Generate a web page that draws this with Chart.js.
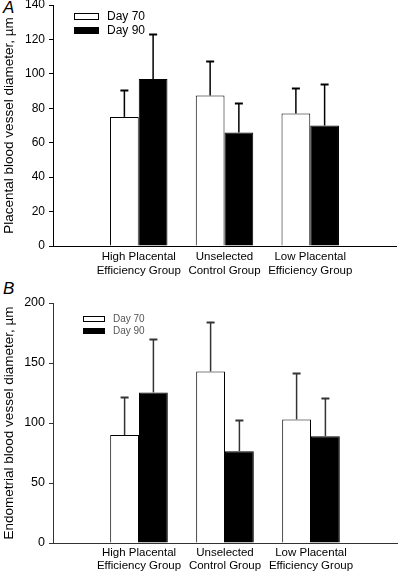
<!DOCTYPE html>
<html>
<head>
<meta charset="utf-8">
<script src="https://cdn.jsdelivr.net/npm/chart.js@4.4.0/dist/chart.umd.min.js"></script>
<style>
    html, body { margin: 0; padding: 0; background: #fff; }
    body { width: 400px; height: 573px; position: relative; overflow: hidden; }
    canvas { position: absolute; left: 0; }
    #chart-a { top: 0; }
    #chart-b { top: 280px; }
    .panel {
        position: absolute; left: 3px;
        font-family: "Liberation Sans", Arial, sans-serif;
        font-style: italic; font-size: 17px; color: #000;
    }
</style>
</head>
<body>
<div class="panel" style="top:-2px">A</div>
<div class="panel" style="top:279px">B</div>
<canvas id="chart-a" width="400" height="280"></canvas>
<canvas id="chart-b" width="400" height="293"></canvas>
<script>
const categories = [
    ["High Placental", "Efficiency Group"],
    ["Unselected", "Control Group"],
    ["Low Placental", "Efficiency Group"],
];
const seriesNames = ["Day 70", "Day 90"];

const placentalDay70 = [75, 87.5, 77];
const placentalDay70Sd = [15.5, 20, 14.5];
const placentalDay90 = [97, 66, 70];
const placentalDay90Sd = [26, 17, 24];

const endometrialDay70 = [90, 143, 103];
const endometrialDay70Sd = [31.5, 41, 38.5];
const endometrialDay90 = [125.5, 76.5, 89];
const endometrialDay90Sd = [44.5, 26, 32];

const placentalTicks = { max: 140, step: 20 };
const endometrialTicks = { max: 200, step: 50 };

const FONT = "'Liberation Sans', Arial, sans-serif";

// empty slots on each side so groups sit at 1, 2, 3 of a 0..4 axis
const pad = (arr) => [null, ...arr, null];
const labels = ["", ...categories, ""];

const errorBars = {
    id: "errorBars",
    afterDatasetsDraw(chart, args, opts) {
        const ctx = chart.ctx;
        const yScale = chart.scales.y;
        ctx.save();
        ctx.strokeStyle = opts.color;
        chart.data.datasets.forEach((ds, i) => {
            const meta = chart.getDatasetMeta(i);
            meta.data.forEach((bar, j) => {
                const v = ds.data[j];
                const sd = ds.sd[j];
                if (v == null || sd == null) return;
                const top = Math.round(yScale.getPixelForValue(v + sd)) + 0.5;
                ctx.lineWidth = 1.5;
                ctx.beginPath();
                ctx.moveTo(bar.x, bar.y);
                ctx.lineTo(bar.x, top);
                ctx.stroke();
                ctx.lineWidth = 2;
                ctx.beginPath();
                ctx.moveTo(bar.x - 4, top);
                ctx.lineTo(bar.x + 4, top);
                ctx.stroke();
            });
        });
        ctx.restore();
    },
};

const boxLegend = {
    id: "boxLegend",
    afterDraw(chart, args, o) {
        const ctx = chart.ctx;
        ctx.save();
        ctx.font = `${o.fontSize}px ${FONT}`;
        ctx.textBaseline = "middle";
        chart.data.datasets.forEach((ds, i) => {
            const y = o.y + i * o.gap;
            ctx.fillStyle = ds.backgroundColor;
            ctx.fillRect(o.x, y, o.w, o.h);
            ctx.strokeStyle = "#000";
            ctx.lineWidth = 1;
            ctx.strokeRect(o.x + 0.5, y + 0.5, o.w - 1, o.h - 1);
            ctx.fillStyle = o.textColor;
            ctx.fillText(ds.label, o.x + o.w + 8, y + o.h / 2);
        });
        ctx.restore();
    },
};

function makeChart(id, d70, sd70, d90, sd90, ticks, title, s) {
    const ctx = document.getElementById(id).getContext("2d");
    return new Chart(ctx, {
        type: "bar",
        data: {
            labels: labels,
            datasets: [
                {
                    label: seriesNames[0],
                    data: pad(d70),
                    sd: pad(sd70),
                    backgroundColor: "#ffffff",
                    borderColor: "#000000",
                    borderWidth: 1,
                },
                {
                    label: seriesNames[1],
                    data: pad(d90),
                    sd: pad(sd90),
                    backgroundColor: "#000000",
                    borderColor: "#000000",
                    borderWidth: 1,
                },
            ],
        },
        options: {
            responsive: false,
            devicePixelRatio: 1,
            animation: false,
            categoryPercentage: 0.67,
            barPercentage: 1,
            layout: { padding: { top: s.top, right: s.right, left: 0, bottom: 0 } },
            plugins: {
                legend: { display: false },
                tooltip: { enabled: false },
                errorBars: { color: s.axis },
                boxLegend: s.legend,
            },
            scales: {
                x: {
                    offset: false,
                    grid: { display: false, drawTicks: false },
                    border: { display: true, color: s.axis, width: 1 },
                    ticks: {
                        color: "#000",
                        padding: s.xpad,
                        maxRotation: 0,
                        autoSkip: false,
                        font: { family: FONT, size: 11.5, lineHeight: s.lineH },
                    },
                    afterFit(scale) { scale.height = s.xh; },
                },
                y: {
                    min: 0,
                    max: ticks.max,
                    grid: { drawOnChartArea: false, drawTicks: true, tickLength: 4, color: s.axis },
                    border: { display: true, color: s.axis, width: 1 },
                    ticks: {
                        stepSize: ticks.step,
                        color: "#000",
                        padding: 4,
                        font: { family: FONT, size: s.tickSize },
                    },
                    title: {
                        display: true,
                        text: title,
                        color: "#000",
                        padding: { top: 1, bottom: 0 },
                        font: { family: FONT, size: s.titleSize },
                    },
                    afterFit(scale) {
                        scale.width = 53;
                        scale.paddingTop = 0;
                        scale.paddingBottom = 0;
                    },
                },
            },
        },
        plugins: [errorBars, boxLegend],
    });
}

makeChart("chart-a", placentalDay70, placentalDay70Sd, placentalDay90, placentalDay90Sd,
    placentalTicks, "Placental blood vessel diameter, \u00b5m", {
        top: 5, right: 3, xh: 34, xpad: 4, lineH: 1.2, axis: "#000",
        tickSize: 12, titleSize: 13.5,
        legend: { x: 74, y: 13, w: 25, h: 7, gap: 14, fontSize: 12, textColor: "#000" },
    });

makeChart("chart-b", endometrialDay70, endometrialDay70Sd, endometrialDay90, endometrialDay90Sd,
    endometrialTicks, "Endometrial blood vessel diameter, \u00b5m", {
        top: 23, right: 0, xh: 30, xpad: 3, lineH: 1.13, axis: "#333",
        tickSize: 12.5, titleSize: 13.5,
        legend: { x: 83, y: 36, w: 22, h: 6, gap: 12, fontSize: 10, textColor: "#555" },
    });
</script>
</body>
</html>
